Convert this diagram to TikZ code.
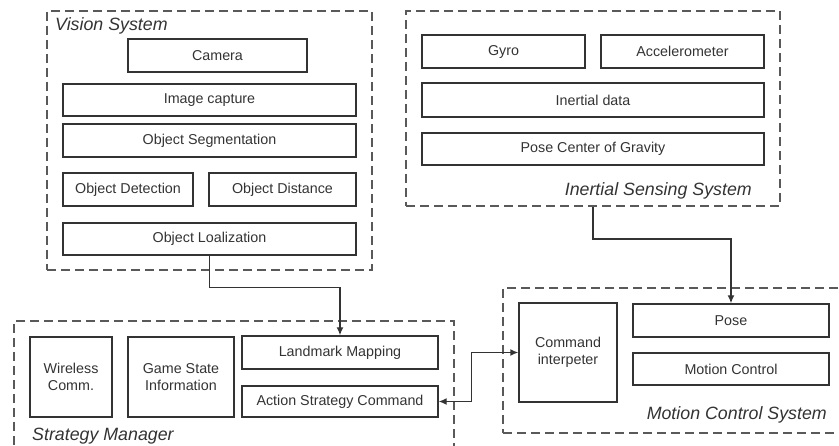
\documentclass[tikz,border=0pt]{standalone}
\usepackage{fontspec}
\setmainfont{Liberation Sans}
\usetikzlibrary{arrows.meta}
\begin{document}
\begin{tikzpicture}[x=1pt,y=-1pt,
 blk/.style={draw=black!80, line width=1.4pt, text=black!80, font=\fontsize{14.3}{16.5}\selectfont, align=center, inner sep=0pt},
 grp/.style={draw=black!65, line width=1.7pt, dash pattern=on 9pt off 5pt, inner sep=0pt},
 ttl/.style={font=\fontsize{17.8}{20}\selectfont\itshape, text=black!80, inner sep=0pt},
 conn/.style={draw=black!80, line width=1.4pt, -{Latex[length=8pt,width=7pt]}},
 dconn/.style={draw=black!80, line width=1.4pt, {Latex[length=8pt,width=7pt]}-{Latex[length=8pt,width=7pt]}}]
\useasboundingbox (0,0) rectangle (839,446);
% group containers
\node[grp, minimum width=325, minimum height=259] (vis) at (209.5,140.5) {};
\node[grp, minimum width=374, minimum height=195] (ins) at (593,108.5) {};
\node[grp, minimum width=440, minimum height=139] (str) at (234,390.5) {};
\node[grp, minimum width=347, minimum height=145] (mot) at (676.5,360.5) {};
% titles
\node[ttl, anchor=west] (vist) at (55,26) {Vision System};
\node[ttl, anchor=east] (inst) at (752,191) {Inertial Sensing System};
\node[ttl, anchor=west] (strt) at (32,436) {Strategy Manager};
\node[ttl, anchor=east] (mott) at (827,415) {Motion Control System};
% vision
\node[blk, minimum width=179, minimum height=33] (cam) at (217.5,55.5) {Camera};
\node[blk, minimum width=293, minimum height=32] (img) at (209.5,100) {Image capture};
\node[blk, minimum width=293, minimum height=33] (seg) at (209.5,140.5) {Object Segmentation};
\node[blk, minimum width=130, minimum height=33] (det) at (128,189.5) {Object Detection};
\node[blk, minimum width=147, minimum height=33] (dis) at (282.5,189.5) {Object Distance};
\node[blk, minimum width=293, minimum height=32] (loc) at (209.5,239) {Object Loalization};
% inertial
\node[blk, minimum width=163, minimum height=33] (gyr) at (503.5,51.5) {Gyro};
\node[blk, minimum width=163, minimum height=33] (acc) at (682.5,51.5) {Accelerometer};
\node[blk, minimum width=342, minimum height=34] (ind) at (593,100) {Inertial data};
\node[blk, minimum width=342, minimum height=32] (cog) at (593,149) {Pose Center of Gravity};
% strategy
\node[blk, minimum width=82, minimum height=80] (wir) at (71,377) {Wireless\\Comm.};
\node[blk, minimum width=106, minimum height=80] (gam) at (181,377) {Game State\\Information};
\node[blk, minimum width=196, minimum height=33] (lan) at (340,352.5) {Landmark Mapping};
\node[blk, minimum width=196, minimum height=31] (act) at (340,401.5) {Action Strategy Command};
% motion
\node[blk, minimum width=98, minimum height=99] (cmd) at (568,352.5) {Command\\interpeter};
\node[blk, minimum width=196, minimum height=33] (pos) at (731,320.5) {Pose};
\node[blk, minimum width=196, minimum height=32] (mc) at (731,369) {Motion Control};
% connectors
\draw[conn] (loc.south) -- ++(0,32) -| (lan.north);
\draw[conn] (ins.south) -- ++(0,32) -| (pos.north);
\draw[dconn] (act.east) -- ++(33,0) |- (cmd.west);
\end{tikzpicture}
\end{document}
